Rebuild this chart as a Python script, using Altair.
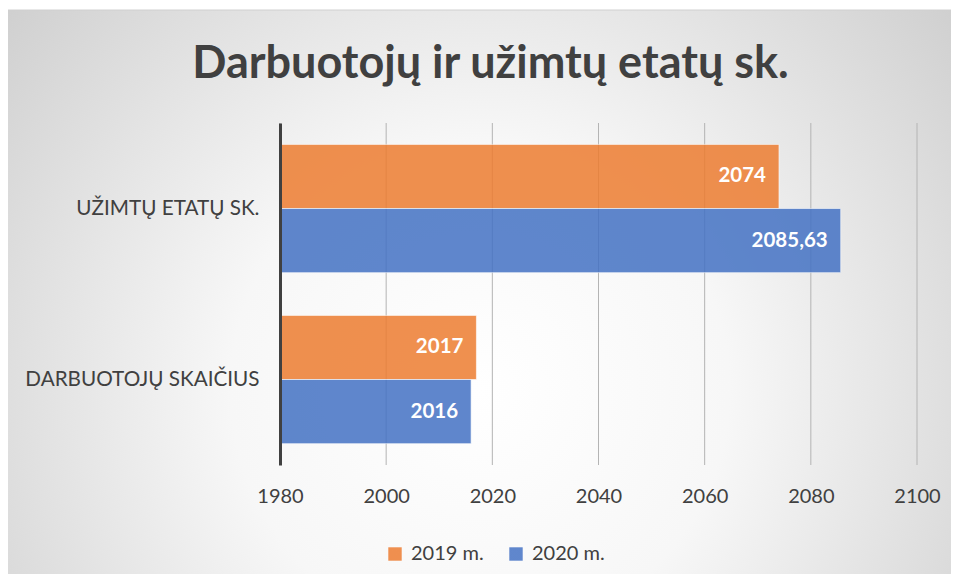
import altair as alt
import pandas as pd

# ---- data ----
categories = ["UŽIMTŲ ETATŲ SK.", "DARBUOTOJŲ SKAIČIUS"]
series = ["2019 m.", "2020 m."]
values_2019 = [2074, 2017]
values_2020 = [2085.63, 2016]
x_ticks = [1980, 2000, 2020, 2040, 2060, 2080, 2100]
colors = ["#ED7D31", "#4472C4"]
title_text = "Darbuotojų ir užimtų etatų sk."

rows = []
for i, c in enumerate(categories):
    rows.append({"category": c, "series": series[0], "value": values_2019[i]})
    rows.append({"category": c, "series": series[1], "value": values_2020[i]})
df = pd.DataFrame(rows)
grid_df = pd.DataFrame({"tick": x_ticks})
bg_df = pd.DataFrame({"k": [0]})

FONT = "Lato"
TXT = "#404040"

xscale = alt.Scale(domain=[1980, 2100], zero=False, nice=False)
yscale = alt.Scale(domain=categories, paddingInner=0.25, paddingOuter=0.125)

xaxis = alt.Axis(values=x_ticks, grid=False, ticks=False, domain=False, labelFont=FONT,
                 labelFontSize=20, labelColor=TXT, labelPadding=21, title=None, zindex=1,
                 format="d", labelFlush=False)
yaxis = alt.Axis(title=None, ticks=False, domain=True, domainColor="#404040", domainWidth=3,
                 labelFont=FONT, labelFontSize=20.7, labelColor=TXT, labelPadding=21, zindex=1,
                 labelLimit=400)

bg = alt.Chart(bg_df).mark_rect(
    fill={"gradient": "radial", "x1": 0.5, "y1": 0.6, "r1": 0, "x2": 0.5, "y2": 0.6, "r2": 0.75,
          "stops": [{"offset": 0, "color": "#ffffff"},
                    {"offset": 0.35, "color": "#f7f7f7"},
                    {"offset": 1, "color": "#c4c4c4"}]},
    stroke="#d0d0d0", strokeWidth=1
).encode(x=alt.value(-275), x2=alt.value(675), y=alt.value(-113), y2=alt.value(455))

grid = alt.Chart(grid_df).mark_rule(color="#b4b4b4", strokeWidth=1).encode(
    x=alt.X("tick:Q", scale=xscale, axis=xaxis)
)

yenc = alt.Y("category:N", scale=yscale, sort=categories, axis=yaxis)
yoff = alt.YOffset("series:N", sort=series, scale=alt.Scale(paddingInner=0, paddingOuter=0))

bars = alt.Chart(df).mark_bar(opacity=0.85, stroke="white", strokeWidth=1, strokeOpacity=0.6).encode(
    y=yenc,
    yOffset=yoff,
    x=alt.X("value:Q", scale=xscale, axis=xaxis),
    x2=alt.datum(1980),
    color=alt.Color("series:N", scale=alt.Scale(domain=series, range=colors),
                    legend=alt.Legend(title=None, orient="none", legendX=105, legendY=421,
                                      direction="horizontal", symbolType="square", symbolSize=180,
                                      labelFont=FONT, labelFontSize=20, labelColor=TXT,
                                      columnPadding=22, labelOffset=6, symbolStrokeWidth=0,
                                      zindex=1, padding=0)),
)

labels = alt.Chart(df).transform_calculate(
    label="replace(format(datum.value, ''), '.', ',')"
).mark_text(align="right", baseline="middle", dx=-13, font=FONT, fontSize=20.5,
            fontWeight="bold", color="white").encode(
    y=yenc,
    yOffset=yoff,
    x=alt.X("value:Q", scale=xscale, axis=xaxis),
    text="label:N",
)

chart = alt.layer(bg, grid, bars, labels).properties(
    width=637, height=342,
    padding={"left": 272, "top": 115, "right": 34, "bottom": 109},
    autosize="none",
    background="white",
    title=alt.TitleParams(text=title_text, font=FONT, fontSize=45, fontWeight="bold", color=TXT,
                          anchor="middle", frame="group", dx=-108, offset=-99,
                          baseline="middle", zindex=1),
).configure_view(stroke=None)

chart.save("out.html", embed_options={"renderer": "svg", "actions": False})
